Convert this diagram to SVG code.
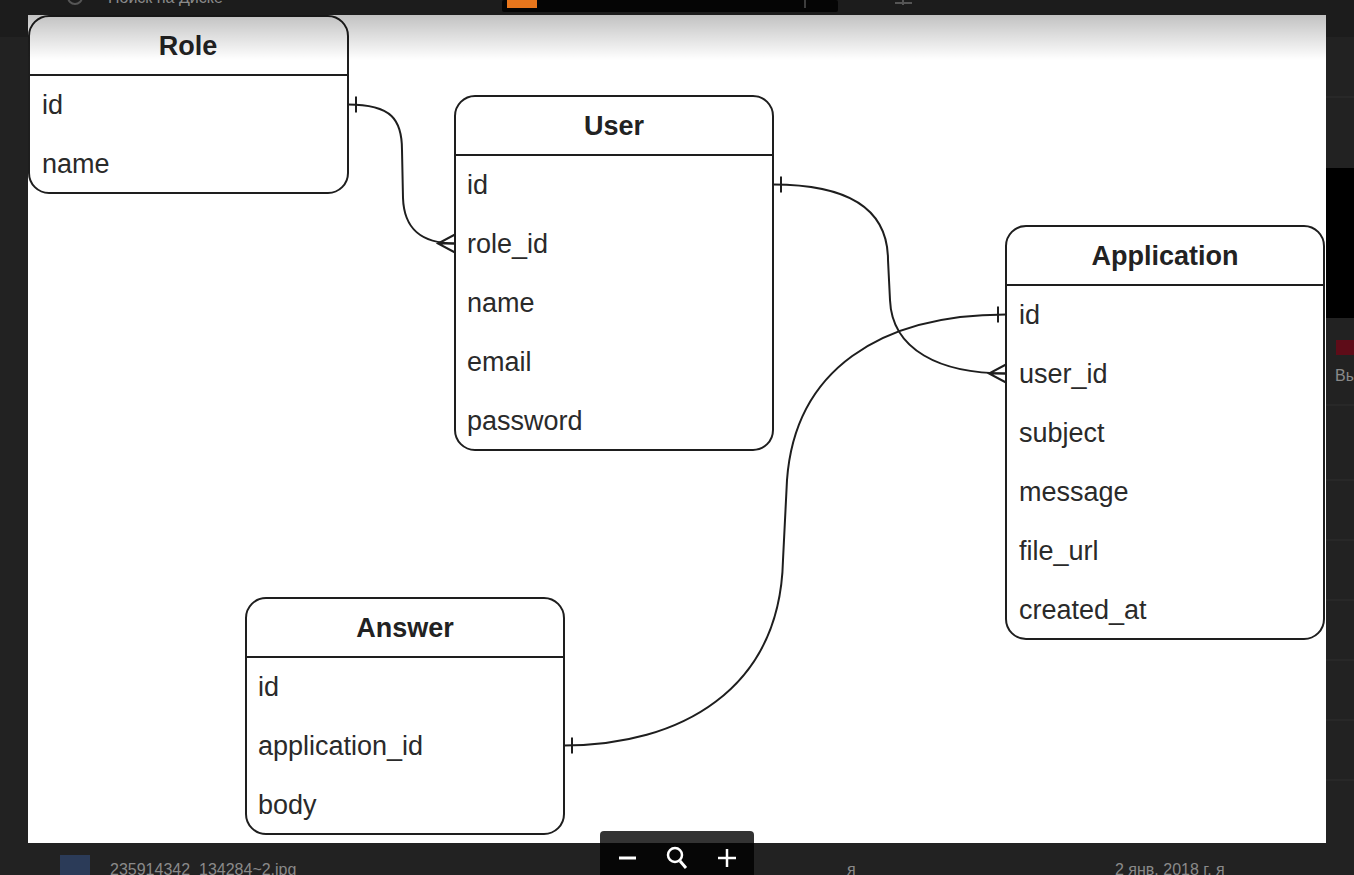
<svg xmlns="http://www.w3.org/2000/svg" width="1354" height="875" viewBox="0 0 1354 875">
<style>
.box{fill:#ffffff;stroke:#1e1e1e;stroke-width:2}
.sep{stroke:#1e1e1e;stroke-width:2}
.hdr{font-family:"Liberation Sans",Arial,sans-serif;font-size:27px;font-weight:bold;fill:#222;text-anchor:middle}
.row{font-family:"Liberation Sans",Arial,sans-serif;font-size:27px;fill:#2a2a2a}
.edge{fill:none;stroke:#1e1e1e;stroke-width:2}
.ui{font-family:"Liberation Sans",Arial,sans-serif;font-size:16px;fill:#8a8a8a}
.uiline{stroke:#2e2e2e;stroke-width:1}
</style>
<defs>
<linearGradient id="shade" x1="0" y1="0" x2="0" y2="1">
<stop offset="0" stop-color="#000" stop-opacity="0.24"/>
<stop offset="1" stop-color="#000" stop-opacity="0"/>
</linearGradient>
<marker id="one" viewBox="-20 -12 24 24" refX="0" refY="0" markerWidth="24" markerHeight="24" markerUnits="userSpaceOnUse" orient="auto-start-reverse">
<path d="M-8,-8 L-8,8" fill="none" stroke="#1e1e1e" stroke-width="2"/>
</marker>
<marker id="many" viewBox="-20 -12 24 24" refX="0" refY="0" markerWidth="24" markerHeight="24" markerUnits="userSpaceOnUse" orient="auto-start-reverse">
<path d="M0,-9 L-17,0 L0,9 M-17,0 L0,0" fill="none" stroke="#1e1e1e" stroke-width="2"/>
</marker>
</defs>

<!-- page chrome -->
<g id="chrome">
<rect x="0" y="0" width="1354" height="875" fill="#222222"/>
<rect x="0" y="0" width="1354" height="37" fill="#1c1c1c"/>
<circle cx="75" cy="-3" r="7" fill="none" stroke="#555" stroke-width="2"/>
<text class="ui" x="108" y="3" fill="#6a6a6a">Поиск на Диске</text>
<rect x="502" y="0" width="336" height="12" rx="2" fill="#050505"/>
<rect x="507" y="0" width="30" height="8" fill="#e8761c"/>
<line x1="805" y1="0" x2="805" y2="8" stroke="#777" stroke-width="1"/>
<path d="M895,3 L912,3 M903,0 L903,5" stroke="#555" stroke-width="2"/>
<rect x="1326" y="168" width="28" height="150" fill="#000"/>
<rect x="1336" y="340" width="18" height="15" fill="#5e0c18"/>
<text class="ui" x="1335" y="381" font-size="14">Вы</text>
<line class="uiline" x1="1326" y1="97" x2="1354" y2="97"/>
<line class="uiline" x1="1326" y1="405" x2="1354" y2="405"/>
<line class="uiline" x1="1326" y1="480" x2="1354" y2="480"/>
<line class="uiline" x1="1326" y1="540" x2="1354" y2="540"/>
<line class="uiline" x1="1326" y1="600" x2="1354" y2="600"/>
<line class="uiline" x1="1326" y1="660" x2="1354" y2="660"/>
<line class="uiline" x1="1326" y1="720" x2="1354" y2="720"/>
<line class="uiline" x1="1326" y1="780" x2="1354" y2="780"/>
<rect x="60" y="855" width="30" height="20" fill="#2b3b58"/>
<text class="ui" x="110" y="875">235914342_134284~2.jpg</text>
<text class="ui" x="847" y="875">я</text>
<text class="ui" x="1115" y="875">2 янв. 2018 г. я</text>
</g>

<!-- canvas -->
<rect x="28" y="15" width="1298" height="828" fill="#ffffff"/>

<g id="connectors">
<path class="edge" d="M348,104.5 C392,104.5 402,120 402,150 L403,198 C404,228 420,243.5 455,243.5" marker-start="url(#one)" marker-end="url(#many)"/>
<path class="edge" d="M773,184.5 C850,184.5 888,210 888,260 L890,300 C892,350 940,373.5 1006,373.5" marker-start="url(#one)" marker-end="url(#many)"/>
<path class="edge" d="M564,745.5 C680,745.5 780,690 783,560 L787,480 C795,370 880,314.5 1006,314.5" marker-start="url(#one)" marker-end="url(#one)"/>
</g>

<g id="role">
<rect class="box" x="29" y="16" width="319" height="177" rx="20"/>
<line class="sep" x1="29" y1="75" x2="348" y2="75"/>
<text class="hdr" x="188" y="55">Role</text>
<text class="row" x="42" y="114">id</text>
<text class="row" x="42" y="173">name</text>
</g>

<g id="user">
<rect class="box" x="455" y="96" width="318" height="354" rx="20"/>
<line class="sep" x1="455" y1="155" x2="773" y2="155"/>
<text class="hdr" x="614" y="135">User</text>
<text class="row" x="467" y="194">id</text>
<text class="row" x="467" y="253">role_id</text>
<text class="row" x="467" y="312">name</text>
<text class="row" x="467" y="371">email</text>
<text class="row" x="467" y="430">password</text>
</g>

<g id="application">
<rect class="box" x="1006" y="226" width="318" height="413" rx="20"/>
<line class="sep" x1="1006" y1="285" x2="1324" y2="285"/>
<text class="hdr" x="1165" y="265">Application</text>
<text class="row" x="1019" y="324">id</text>
<text class="row" x="1019" y="383">user_id</text>
<text class="row" x="1019" y="442">subject</text>
<text class="row" x="1019" y="501">message</text>
<text class="row" x="1019" y="560">file_url</text>
<text class="row" x="1019" y="619">created_at</text>
</g>

<g id="answer">
<rect class="box" x="246" y="598" width="318" height="236" rx="20"/>
<line class="sep" x1="246" y1="657" x2="564" y2="657"/>
<text class="hdr" x="405" y="637">Answer</text>
<text class="row" x="258" y="696">id</text>
<text class="row" x="258" y="755">application_id</text>
<text class="row" x="258" y="814">body</text>
</g>

<!-- top shade of canvas -->
<rect x="28" y="15" width="1298" height="45" fill="url(#shade)"/>

<!-- zoom control -->
<g id="zoom-control">
<rect x="600" y="831" width="154" height="48" rx="4" fill="#000" fill-opacity="0.8"/>
<line x1="619" y1="858" x2="636" y2="858" stroke="#fff" stroke-width="3"/>
<circle cx="675" cy="855" r="7" fill="none" stroke="#fff" stroke-width="2.5"/>
<line x1="680" y1="861" x2="686" y2="868" stroke="#fff" stroke-width="3"/>
<line x1="718" y1="858" x2="736" y2="858" stroke="#fff" stroke-width="2.5"/>
<line x1="727" y1="849" x2="727" y2="867" stroke="#fff" stroke-width="2.5"/>
</g>
</svg>
